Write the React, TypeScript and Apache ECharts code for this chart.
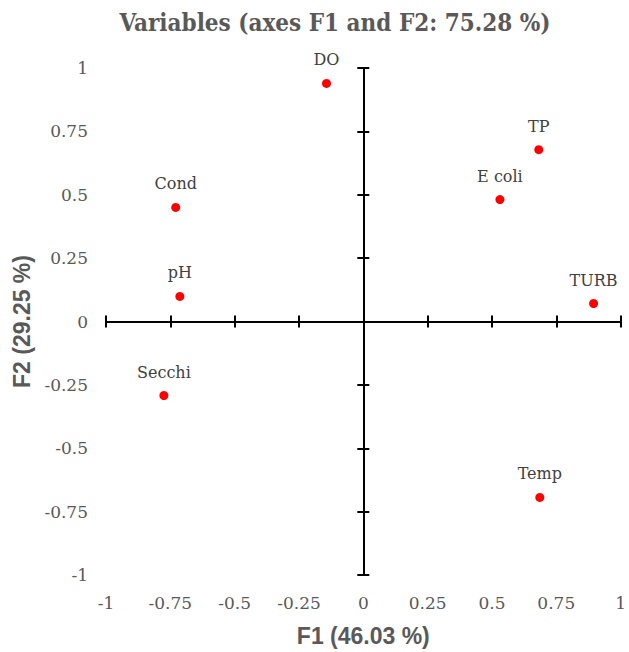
import React, { useEffect, useRef } from "react";
import * as echarts from "echarts";

// Correlation circle coordinates of each variable on F1 / F2
const variables = ["DO", "TP", "E coli", "TURB", "Cond", "pH", "Secchi", "Temp"];
const f1 = [-0.143, 0.682, 0.531, 0.895, -0.729, -0.713, -0.775, 0.686];
const f2 = [0.939, 0.678, 0.481, 0.071, 0.45, 0.099, -0.292, -0.694];

const titleText = "Variables (axes F1 and F2: 75.28 %)";
const xName = "F1 (46.03 %)";
const yName = "F2 (29.25 %)";

const serif = "'DejaVu Serif', 'Liberation Serif', serif";
const titleSerif = "'DejaVu Serif Condensed', 'Liberation Serif', serif";
const sans = "'Liberation Sans', Arial, sans-serif";
const grey = "#595959";

export default function App() {
  const ref = useRef<HTMLDivElement>(null);

  useEffect(() => {
    if (!ref.current) return;
    const chart = echarts.init(ref.current, undefined, { renderer: "svg" });

    const range = { min: -1, max: 1, interval: 0.25 };
    const tickLine = { color: "#000", width: 2 };

    // axis 0 carries labels at the chart edge; axes 1 and 2 draw the crossing ticks at zero
    const xAxes = [
      {
        type: "value", ...range, position: "bottom",
        axisLine: { show: false, onZero: false },
        axisTick: { show: false },
        splitLine: { show: false },
        axisLabel: { color: grey, fontFamily: serif, fontSize: 17, margin: 19 },
        name: xName, nameLocation: "middle", nameGap: 49,
        nameTextStyle: { color: grey, fontFamily: sans, fontWeight: "bold", fontSize: 23 },
      },
      {
        type: "value", ...range,
        axisLine: { show: true, onZero: true, onZeroAxisIndex: 0, lineStyle: tickLine },
        axisTick: { show: true, inside: false, length: 6, lineStyle: tickLine },
        axisLabel: { show: false }, splitLine: { show: false },
      },
      {
        type: "value", ...range,
        axisLine: { show: true, onZero: true, onZeroAxisIndex: 0, lineStyle: tickLine },
        axisTick: { show: true, inside: true, length: 6, lineStyle: tickLine },
        axisLabel: { show: false }, splitLine: { show: false },
      },
    ];

    const yAxes = [
      {
        type: "value", ...range, position: "left",
        axisLine: { show: false, onZero: false },
        axisTick: { show: false },
        splitLine: { show: false },
        axisLabel: { color: grey, fontFamily: serif, fontSize: 17, margin: 18 },
        name: yName, nameLocation: "middle", nameGap: 72, nameRotate: 90,
        nameTextStyle: { color: grey, fontFamily: sans, fontWeight: "bold", fontSize: 23 },
      },
      {
        type: "value", ...range,
        axisLine: { show: true, onZero: true, onZeroAxisIndex: 0, lineStyle: tickLine },
        axisTick: { show: true, inside: false, length: 6, lineStyle: tickLine },
        axisLabel: { show: false }, splitLine: { show: false },
      },
      {
        type: "value", ...range,
        axisLine: { show: true, onZero: true, onZeroAxisIndex: 0, lineStyle: tickLine },
        axisTick: { show: true, inside: true, length: 6, lineStyle: tickLine },
        axisLabel: { show: false }, splitLine: { show: false },
      },
    ];

    chart.setOption({
      animation: false,
      backgroundColor: "#fff",
      title: {
        text: titleText,
        left: 330, top: 5, textAlign: "center",
        textStyle: { color: grey, fontFamily: titleSerif, fontWeight: "bold", fontSize: 24 },
      },
      grid: { left: 106, right: 7, top: 68, bottom: 77, containLabel: false },
      xAxis: xAxes,
      yAxis: yAxes,
      series: [
        {
          type: "scatter",
          xAxisIndex: 0, yAxisIndex: 0,
          symbol: "circle", symbolSize: 9,
          itemStyle: { color: "#ff0000", opacity: 1 },
          data: variables.map((v, i) => ({ name: v, value: [f1[i], f2[i]] })),
          label: {
            show: true, position: "top", distance: 11,
            formatter: (p: any) => p.name,
            color: "#404040", fontFamily: serif, fontSize: 16,
          },
        },
      ],
    });

    return () => chart.dispose();
  }, []);

  return (
    <div
      ref={ref}
      style={{ width: 629, height: 652, position: "fixed", left: 0, top: 0 }}
    />
  );
}
